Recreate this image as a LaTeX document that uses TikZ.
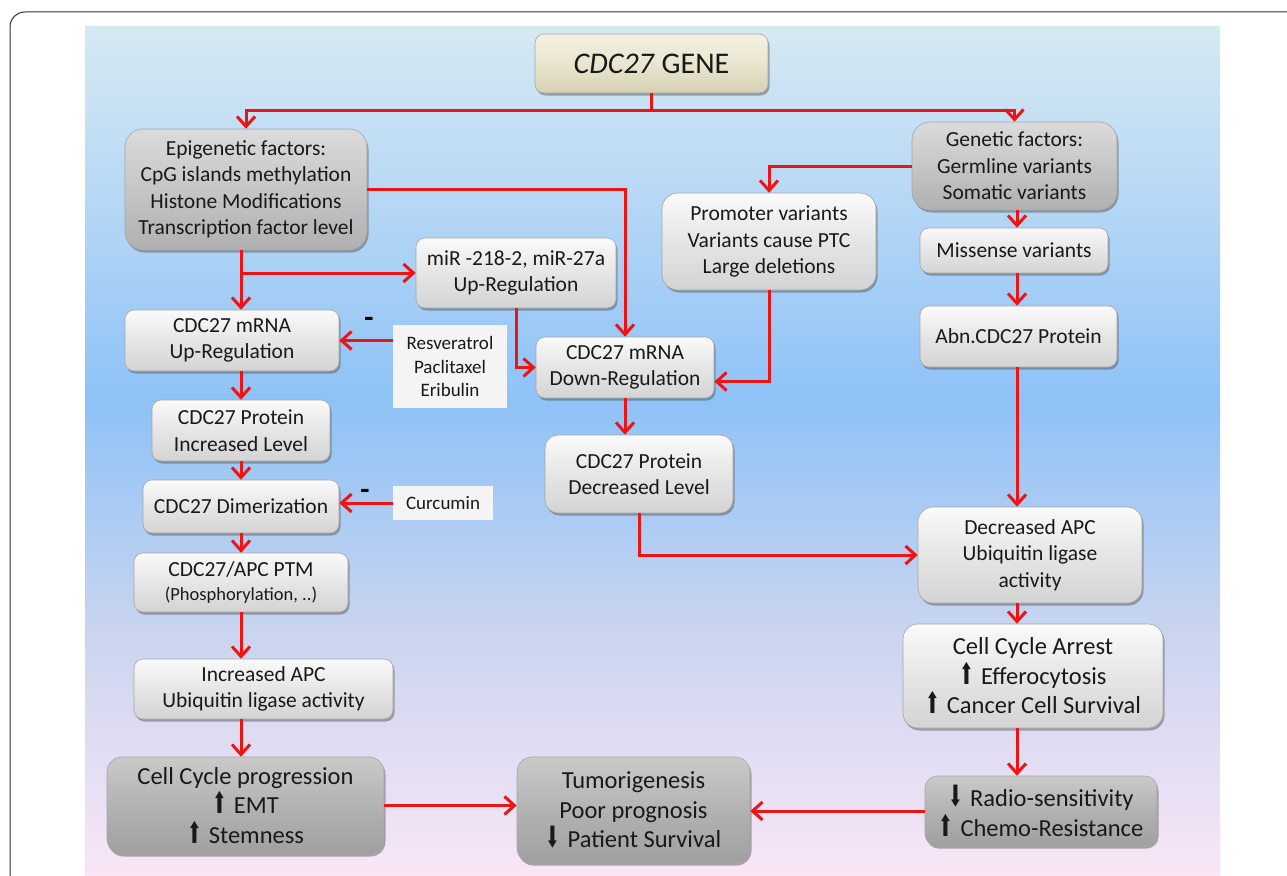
\documentclass[tikz,border=0pt]{standalone}
\usepackage{fontspec}
\usepackage{graphicx}
\setmainfont{Carlito}
\newfontfamily\symfont{DejaVu Sans}
\usetikzlibrary{arrows.meta,shadows}

\definecolor{arrowred}{RGB}{238,20,20}
\definecolor{bgA}{HTML}{D6E9F3}
\definecolor{bgB}{HTML}{B4D6F5}
\definecolor{bgC}{HTML}{8EC2F7}
\definecolor{bgD}{HTML}{CBD5EF}
\definecolor{bgE}{HTML}{F9E6F6}
\definecolor{creamT}{HTML}{F4F1E4}
\definecolor{creamM}{HTML}{E9E5CF}
\definecolor{creamB}{HTML}{D6D1B4}

\newcommand{\UpMark}{{\symfont\scalebox{0.72}[1.2]{⬆}}\hspace{7pt}}
\newcommand{\DownMark}{{\symfont\scalebox{0.72}[1.2]{⬇}}\hspace{7pt}}

\begin{document}
\begin{tikzpicture}[
    x=1pt, y=-1pt,
    box/.style = {
      draw=gray!70, line width=0.6pt, rounded corners=9pt,
      align=center, inner sep=0pt, text=black!90,
      font=\fontsize{21.5}{26.5}\selectfont,
      drop shadow={shadow xshift=1.5pt, shadow yshift=-2.5pt,
        opacity=0.45, fill=black!70}
    },
    lightbox/.style = {box, top color=gray!4, bottom color=gray!34,
      middle color=gray!20},
    darkbox/.style  = {box, rounded corners=18pt, top color=gray!28,
      bottom color=gray!62, middle color=gray!45},
    endbox/.style   = {box, rounded corners=15pt, top color=gray!42,
      bottom color=gray!75, middle color=gray!60,
      font=\fontsize{24.5}{29.5}\selectfont},
    genebox/.style  = {box, top color=creamT, bottom color=creamB,
      middle color=creamM, font=\fontsize{30}{36}\selectfont},
    drug/.style     = {fill=gray!9, align=center, inner sep=0pt,
      text=black!90, font=\fontsize{19}{23.3}\selectfont},
    minus/.style    = {font=\fontsize{30}{30}\selectfont\bfseries},
    arr/.style      = {draw=arrowred, line width=3pt,
      -{Straight Barb[length=10pt,width=18pt]}}
  ]
  \useasboundingbox (0,0) rectangle (1287,875);
  \clip (0,0) rectangle (1287,875);

  % frame and background
  \draw [line width=1pt, black!80, rounded corners=15pt]
    (10,12) rectangle (1320,910);
  \shade [top color=bgA, bottom color=bgC, middle color=bgB]
    (85,27) rectangle (1220,400.5);
  \shade [top color=bgC, bottom color=bgE, middle color=bgD]
    (85,400) rectangle (1220,875);

  \coordinate (lx) at (241,0);
  \coordinate (rx) at (1017,0);

  % top
  \node (gene) [genebox, minimum width=233, minimum height=59]
    at (651.5,63.5) {\textit{CDC27} GENE};
  \node (EPI) [darkbox, minimum width=242, minimum height=121]
    at (246,189.5) {Epigenetic factors:\\ CpG islands methylation\\
    Histone Modifications\\ Transcription factor level};
  \node (GEN) [darkbox, minimum width=205, minimum height=88]
    at (1014.5,166) {Genetic factors:\\ Germline variants\\ Somatic variants};

  % middle
  \node (PROM) [lightbox, rounded corners=16pt, minimum width=214, minimum height=97]
    at (769,241.5) {Promoter variants\\ Variants cause PTC\\ Large deletions};
  \node (MISS) [lightbox, minimum width=188, minimum height=45]
    at (1014,250.5) {Missense variants};
  \node (ABN) [lightbox, minimum width=197, minimum height=61]
    at (1018.5,336.5) {Abn.CDC27 Protein};
  \node (MIR) [lightbox, minimum width=200, minimum height=70]
    at (516,273) {miR -218-2, miR-27a\\ Up-Regulation};
  \node (UP) [lightbox, minimum width=214, minimum height=61]
    at (232,340.5) {CDC27 mRNA\\ Up-Regulation};
  \node (RESV) [drug, minimum width=114, minimum height=83]
    at (450,366.5) {Resveratrol\\ Paclitaxel\\ Eribulin};
  \node (DOWN) [lightbox, minimum width=178, minimum height=61]
    at (625,367.5) {CDC27 mRNA\\ Down-Regulation};
  \node (UPROT) [lightbox, minimum width=178, minimum height=61]
    at (241,430.5) {CDC27 Protein\\ Increased Level};
  \node (DPROT) [lightbox, rounded corners=13pt, minimum width=188, minimum height=78]
    at (639,474) {CDC27 Protein\\ Decreased Level};
  \node (DIM) [lightbox, minimum width=196, minimum height=53]
    at (241,506.5) {CDC27 Dimerization};
  \node (CURC) [drug, minimum width=100, minimum height=34]
    at (443,503) {Curcumin};
  \node (PTM) [lightbox, minimum width=214, minimum height=59]
    at (241,582.5) {CDC27/APC PTM\\[-3pt]
    {\fontsize{18.5}{22}\selectfont (Phosphorylation, ..)}};
  \node (INCA) [lightbox, minimum width=259, minimum height=60]
    at (263.5,689) {Increased APC\\ Ubiquitin ligase activity};
  \node (DECA) [lightbox, rounded corners=15pt, minimum width=224, minimum height=96]
    at (1030,555) {Decreased APC\\ Ubiquitin ligase\\ activity};
  \node (ARR) [lightbox, rounded corners=15pt, minimum width=260, minimum height=104,
    font=\fontsize{24.5}{29.5}\selectfont]
    at (1033,676) {Cell Cycle Arrest\\ \UpMark Efferocytosis\\
    \UpMark Cancer Cell Survival};

  % bottom
  \node (CCP) [endbox, minimum width=277, minimum height=97]
    at (245.5,805.5) {Cell Cycle progression\\ \UpMark EMT\\ \UpMark Stemness};
  \node (TUM) [endbox, minimum width=233, minimum height=106]
    at (633.5,810) {Tumorigenesis\\ Poor prognosis\\ \DownMark Patient Survival};
  \node (RADIO) [endbox, rounded corners=12pt, minimum width=232, minimum height=70]
    at (1041,811) {\DownMark Radio-sensitivity\\ \UpMark Chemo-Resistance};

  \node (m1) [minus] at (369,322) {-};
  \node (m2) [minus] at (365,494) {-};

  % connectors
  \draw [arr] (gene.south) -- ++(0,17) -| (EPI.north);
  \draw [arr] (gene.south) -- ++(0,17) -| (GEN.north);
  \draw [arr] (EPI.south -| lx) -- (UP.north -| lx);
  \draw [arr] (MIR.west -| lx) -- (MIR.west);
  \draw [arr] (EPI.east) -| (DOWN.north);
  \draw [arr] (GEN.west) -| (PROM.north);
  \draw [arr] (GEN.south -| rx) -- (MISS.north -| rx);
  \draw [arr] (MISS.south -| rx) -- (ABN.north -| rx);
  \draw [arr] (ABN.south -| rx) -- (DECA.north -| rx);
  \draw [arr] (DECA.south -| rx) -- (ARR.north -| rx);
  \draw [arr] (ARR.south -| rx) -- (RADIO.north -| rx);
  \draw [arr] (MIR.south) |- (DOWN.west);
  \draw [arr] (PROM.south) |- ([yshift=-14pt]DOWN.east);
  \draw [arr] (DOWN.south) -- (DOWN.south |- DPROT.north);
  \draw [arr] (DPROT.south) |- (DECA.west);
  \draw [arr] (RESV.west |- UP.east) -- (UP.east);
  \draw [arr] (UP.south -| lx) -- (UPROT.north -| lx);
  \draw [arr] (UPROT.south -| lx) -- (DIM.north -| lx);
  \draw [arr] (CURC.west) -- (CURC.west -| DIM.east);
  \draw [arr] (DIM.south -| lx) -- (PTM.north -| lx);
  \draw [arr] (PTM.south -| lx) -- (INCA.north -| lx);
  \draw [arr] (INCA.south -| lx) -- (CCP.north -| lx);
  \draw [arr] (CCP.east) -- (CCP.east -| TUM.west);
  \draw [arr] (RADIO.west) -- (RADIO.west -| TUM.east);
\end{tikzpicture}
\end{document}
